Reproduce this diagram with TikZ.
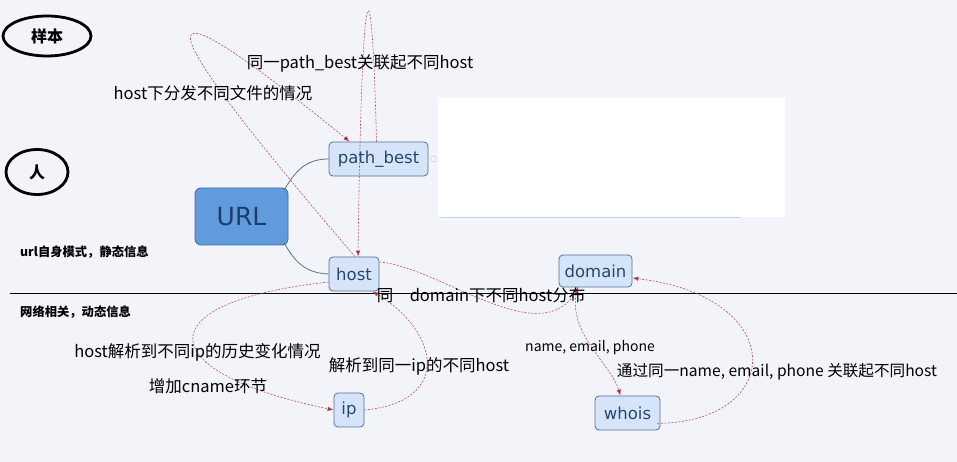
\documentclass[tikz,border=0pt]{standalone}
\usepackage{fontspec}
\setmainfont{DejaVu Sans}
\newfontfamily\cjk{Noto Sans CJK SC}
\usetikzlibrary{arrows.meta,shapes.geometric,calc}
\begin{document}
\begin{tikzpicture}[x=1pt,y=1pt,
  box/.style={draw=boxBorder,fill=boxFill,rounded corners=4pt,line width=0.8pt,text=boxText,font=\fontsize{16.5}{19}\selectfont,inner sep=0pt,minimum height=34pt},
  oval/.style={ellipse,draw=black,line width=2.8pt,inner sep=0pt,font=\cjk\bfseries\fontsize{16}{19}\selectfont},
  tag/.style={text=black,inner sep=0pt,font=\cjk\fontsize{16.5}{19}\selectfont},
  small tag/.style={tag,font=\cjk\fontsize{14}{17}\selectfont},
  note/.style={text=black,inner sep=0pt,anchor=west,font=\cjk\bfseries\fontsize{12.3}{14}\selectfont},
  link/.style={draw=linkColor,line width=0.6pt,dash pattern=on 2pt off 1.5pt,-{Latex[length=6pt,width=4.5pt,fill=tipColor]}},
  stem/.style={draw=stemColor,line width=0.8pt}]
\definecolor{bgColor}{RGB}{243,244,249}
\definecolor{boxFill}{RGB}{214,228,250}
\definecolor{boxBorder}{RGB}{84,114,150}
\definecolor{boxText}{RGB}{40,70,110}
\definecolor{urlFill}{RGB}{96,156,220}
\definecolor{urlBorder}{RGB}{62,104,156}
\definecolor{urlText}{RGB}{28,60,110}
\definecolor{linkColor}{RGB}{186,80,92}
\definecolor{tipColor}{RGB}{170,30,45}
\definecolor{stemColor}{RGB}{88,116,136}
\definecolor{paleLine}{RGB}{196,214,230}
\path[use as bounding box,fill=bgColor] (0,0) rectangle (957,462);

\path[fill=white] (438,245) rectangle (785,364);

\path[draw=paleLine,line width=0.6pt] (440,245) -- (740,245);

\path[draw=black,line width=0.8pt] (10,169) -- (957,169);

\node[oval,minimum width=88pt,minimum height=40pt] (sample) at (47,426) {样本};

\node[oval,minimum width=62pt,minimum height=45pt] (person) at (37,290) {人};

\node[draw=urlBorder,fill=urlFill,rounded corners=6pt,line width=0.8pt,minimum width=93pt,minimum height=57pt,text=urlText,font=\fontsize{25}{30}\selectfont] (url) at (241.5,245.5) {URL};

\node[box,minimum width=99pt] (pathbest) at (378.5,303) {path\_best};

\node[box,minimum width=50pt] (host) at (354,188) {host};

\node[box,minimum width=73pt,minimum height=32pt] (domain) at (595.5,191) {domain};

\node[box,minimum width=30pt] (ip) at (349,52) {ip};

\node[box,minimum width=65pt] (whois) at (627.5,49) {whois};

\path[draw=paleLine,fill=bgColor,line width=0.6pt] ($(pathbest.east)+(5,0)$) circle (3);

\path[stem] ($(url.north east)+(-4,-2)$) .. controls (295,290) and (305,303) .. (pathbest.west);

\path[stem] ($(url.south east)+(-4,2)$) .. controls (295,200) and (305,189) .. (host.west);

\path[link] ($(host.north)+(1,0)$) .. controls (115,485) and (160,475) .. ($(pathbest.north west)+(21,0)$);

\path[link] ($(pathbest.north)+(-2,0)$) .. controls (372,510) and (362,510) .. ($(host.north)+(4,0)$);

\path[link] ($(host.east)+(0,12)$) .. controls (440,195) and (540,110) .. ($(domain.south)+(-17,0)$);

\path[link] ($(host.west)+(0,-8)$) .. controls (145,160) and (150,90) .. (ip.west);

\path[link] (ip.east) .. controls (452,60) and (440,130) .. ($(host.south east)+(-7,0)$);

\path[link] ($(domain.south)+(-18,0)$) .. controls (565,130) and (610,100) .. ($(whois.north)+(-7,0)$);

\path[link] ($(whois.south east)+(-3,7)$) .. controls (785,40) and (790,165) .. ($(domain.east)+(0,-7)$);

\node[tag] (lpath) at (360,399) {同一path\_best关联起不同host};

\node[tag] (lfile) at (213,369) {host下分发不同文件的情况};

\node[tag] (ldomain) at (481,167) {同　domain下不同host分布};

\node[tag] (lhist) at (197.5,110) {host解析到不同ip的历史变化情况};

\node[tag] (lcname) at (208,76) {增加cname环节};

\node[tag] (lsame) at (419,96) {解析到同一ip的不同host};

\node[small tag] (lwhois) at (590,114) {name, email, phone};

\node[tag,font=\cjk\fontsize{15.6}{18}\selectfont] (lrel) at (777,90) {通过同一name, email, phone 关联起不同host};

\node[note] (lstatic) at (20,210) {url自身模式，静态信息};

\node[note] (ldyn) at (20,150) {网络相关，动态信息};
\end{tikzpicture}
\end{document}
